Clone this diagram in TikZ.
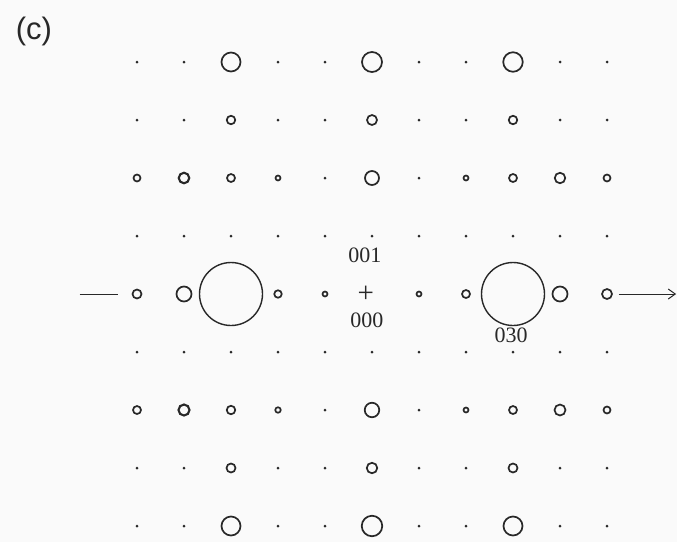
\documentclass[tikz,border=0pt]{standalone}
\usepackage{fontspec}
\setmainfont{Liberation Serif}
\newfontfamily\panelfont{Liberation Sans}
\usetikzlibrary{positioning,arrows.meta}
\definecolor{ink}{RGB}{40,40,40}
\definecolor{paper}{RGB}{250,250,250}

\begin{document}
\begin{tikzpicture}[x=47pt,y=-58pt,
   spot/.style={circle,draw=ink,line width=1.7pt,inner sep=0pt,minimum size=#1},
   bigspot/.style={circle,draw=ink,line width=1.4pt,inner sep=0pt,minimum size=#1},
   dot/.style={circle,fill=ink,inner sep=0pt,minimum size=3pt},
   index/.style={text=ink,font=\fontsize{22}{24}\selectfont,inner sep=1.5pt}]
   \fill[paper] (-90pt,4pt) rectangle (587pt,-538pt);
   \node[text=ink,font=\panelfont\fontsize{31}{34}\selectfont] (panel) at (-56pt,-27pt) {(c)};
   % row 1
   \node[dot] (r1c1) at (1,1) {};
   \node[dot] (r1c2) at (2,1) {};
   \node[spot=19pt] (r1c3) at (3,1) {};
   \node[dot] (r1c4) at (4,1) {};
   \node[dot] (r1c5) at (5,1) {};
   \node[spot=20pt] (r1c6) at (6,1) {};
   \node[dot] (r1c7) at (7,1) {};
   \node[dot] (r1c8) at (8,1) {};
   \node[spot=19.5pt] (r1c9) at (9,1) {};
   \node[dot] (r1c10) at (10,1) {};
   \node[dot] (r1c11) at (11,1) {};
   % row 2
   \node[dot] (r2c1) at (1,2) {};
   \node[dot] (r2c2) at (2,2) {};
   \node[spot=8.5pt] (r2c3) at (3,2) {};
   \node[dot] (r2c4) at (4,2) {};
   \node[dot] (r2c5) at (5,2) {};
   \node[spot=10pt] (r2c6) at (6,2) {};
   \node[dot] (r2c7) at (7,2) {};
   \node[dot] (r2c8) at (8,2) {};
   \node[spot=8.5pt] (r2c9) at (9,2) {};
   \node[dot] (r2c10) at (10,2) {};
   \node[dot] (r2c11) at (11,2) {};
   % row 3
   \node[spot=7pt] (r3c1) at (1,3) {};
   \node[spot=10.5pt,line width=2.1pt] (r3c2) at (2,3) {};
   \node[spot=8pt] (r3c3) at (3,3) {};
   \node[spot=5pt] (r3c4) at (4,3) {};
   \node[dot] (r3c5) at (5,3) {};
   \node[spot=14pt] (r3c6) at (6,3) {};
   \node[dot] (r3c7) at (7,3) {};
   \node[spot=5pt] (r3c8) at (8,3) {};
   \node[spot=8pt] (r3c9) at (9,3) {};
   \node[spot=10.5pt] (r3c10) at (10,3) {};
   \node[spot=7pt] (r3c11) at (11,3) {};
   % row 4
   \node[dot] (r4c1) at (1,4) {};
   \node[dot] (r4c2) at (2,4) {};
   \node[dot] (r4c3) at (3,4) {};
   \node[dot] (r4c4) at (4,4) {};
   \node[dot] (r4c5) at (5,4) {};
   \node[dot] (r4c6) at (6,4) {};
   \node[dot] (r4c7) at (7,4) {};
   \node[dot] (r4c8) at (8,4) {};
   \node[dot] (r4c9) at (9,4) {};
   \node[dot] (r4c10) at (10,4) {};
   \node[dot] (r4c11) at (11,4) {};
   % row 5
   \node[spot=9pt] (r5c1) at (1,5) {};
   \node[spot=15pt] (r5c2) at (2,5) {};
   \node[bigspot=63pt] (r5c3) at (3,5) {};
   \node[spot=7.5pt] (r5c4) at (4,5) {};
   \node[spot=5pt] (r5c5) at (5,5) {};
   \node[text=ink,font=\fontsize{29}{30}\selectfont,inner sep=0pt] (r5c6) at (5.87,5) {+};
   \node[spot=5pt] (r5c7) at (7,5) {};
   \node[spot=8pt] (r5c8) at (8,5) {};
   \node[bigspot=63pt] (r5c9) at (9,5) {};
   \node[spot=15pt] (r5c10) at (10,5) {};
   \node[spot=10pt] (r5c11) at (11,5) {};
   % row 6
   \node[dot] (r6c1) at (1,6) {};
   \node[dot] (r6c2) at (2,6) {};
   \node[dot] (r6c3) at (3,6) {};
   \node[dot] (r6c4) at (4,6) {};
   \node[dot] (r6c5) at (5,6) {};
   \node[dot] (r6c6) at (6,6) {};
   \node[dot] (r6c7) at (7,6) {};
   \node[dot] (r6c8) at (8,6) {};
   \node[dot] (r6c9) at (9,6) {};
   \node[dot] (r6c10) at (10,6) {};
   \node[dot] (r6c11) at (11,6) {};
   % row 7
   \node[spot=8pt] (r7c1) at (1,7) {};
   \node[spot=11pt,line width=2.1pt] (r7c2) at (2,7) {};
   \node[spot=8.5pt] (r7c3) at (3,7) {};
   \node[spot=5.5pt] (r7c4) at (4,7) {};
   \node[dot] (r7c5) at (5,7) {};
   \node[spot=14.5pt] (r7c6) at (6,7) {};
   \node[dot] (r7c7) at (7,7) {};
   \node[spot=5pt] (r7c8) at (8,7) {};
   \node[spot=8pt] (r7c9) at (9,7) {};
   \node[spot=11pt] (r7c10) at (10,7) {};
   \node[spot=7pt] (r7c11) at (11,7) {};
   % row 8
   \node[dot] (r8c1) at (1,8) {};
   \node[dot] (r8c2) at (2,8) {};
   \node[spot=9pt] (r8c3) at (3,8) {};
   \node[dot] (r8c4) at (4,8) {};
   \node[dot] (r8c5) at (5,8) {};
   \node[spot=10.5pt] (r8c6) at (6,8) {};
   \node[dot] (r8c7) at (7,8) {};
   \node[dot] (r8c8) at (8,8) {};
   \node[spot=9pt] (r8c9) at (9,8) {};
   \node[dot] (r8c10) at (10,8) {};
   \node[dot] (r8c11) at (11,8) {};
   % row 9
   \node[dot] (r9c1) at (1,9) {};
   \node[dot] (r9c2) at (2,9) {};
   \node[spot=19pt] (r9c3) at (3,9) {};
   \node[dot] (r9c4) at (4,9) {};
   \node[dot] (r9c5) at (5,9) {};
   \node[spot=20.5pt] (r9c6) at (6,9) {};
   \node[dot] (r9c7) at (7,9) {};
   \node[dot] (r9c8) at (8,9) {};
   \node[spot=19pt] (r9c9) at (9,9) {};
   \node[dot] (r9c10) at (10,9) {};
   \node[dot] (r9c11) at (11,9) {};
   % indices
   \node[index] (i001) at (5.85,4.33) {001};
   \node[index] (i000) at (5.89,5.45) {000};
   \node[index,below=0pt of r5c9,xshift=-2pt] (i030) {030};
   % axis
   \coordinate (axisL) at (-0.22,5);
   \coordinate (axisR) at (12.47,5);
   \draw[ink,line width=1pt,shorten >=14pt] (axisL) -- (r5c1);
   \draw[ink,line width=1pt,shorten <=6pt,-{Straight Barb[length=7pt,width=10pt]}] (r5c11) -- (axisR);
\end{tikzpicture}
\end{document}
